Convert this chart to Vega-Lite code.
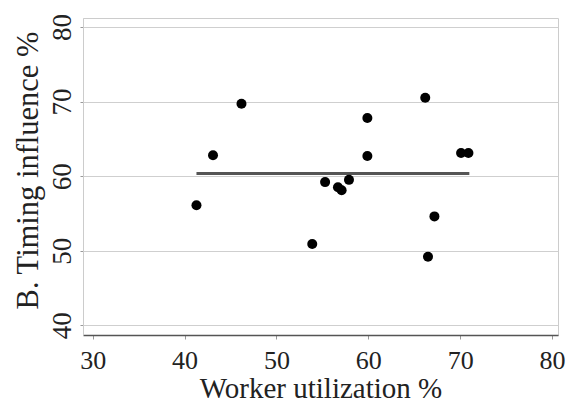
{
  "$schema": "https://vega.github.io/schema/vega-lite/v6.json",
  "width": 475,
  "height": 317,
  "autosize": {"type": "none"},
  "padding": {"left": 83, "top": 18, "right": 13, "bottom": 65},
  "background": "white",
  "config": {
    "font": "Liberation Serif",
    "view": {"stroke": "#cccccc", "strokeWidth": 1}
  },
  "datasets": {
    "points": [
      {"util": 41.3, "timing": 56.1},
      {"util": 43.1, "timing": 62.8},
      {"util": 46.2, "timing": 69.7},
      {"util": 53.9, "timing": 50.9},
      {"util": 55.3, "timing": 59.2},
      {"util": 56.7, "timing": 58.5},
      {"util": 57.1, "timing": 58.1},
      {"util": 57.9, "timing": 59.5},
      {"util": 59.9, "timing": 67.8},
      {"util": 59.9, "timing": 62.7},
      {"util": 66.2, "timing": 70.5},
      {"util": 66.5, "timing": 49.2},
      {"util": 67.2, "timing": 54.6},
      {"util": 70.1, "timing": 63.1},
      {"util": 70.9, "timing": 63.1}
    ],
    "meanline": [
      {"util": 41.3, "timing": 60.35},
      {"util": 71.0, "timing": 60.35}
    ]
  },
  "layer": [
    {
      "data": {"name": "meanline"},
      "mark": {"type": "line", "color": "#555555", "strokeWidth": 3},
      "encoding": {
        "x": {
          "field": "util",
          "type": "quantitative",
          "scale": {"domain": [28.95, 80.65], "nice": false, "zero": false},
          "axis": {
            "title": "Worker utilization %",
            "values": [30, 40, 50, 60, 70, 80],
            "grid": false,
            "domainColor": "#555555",
            "domainWidth": 1.5,
            "tickColor": "#999999",
            "tickSize": 4,
            "labelFont": "Liberation Serif",
            "labelFontSize": 26,
            "labelColor": "#222222",
            "labelBaseline": "alphabetic",
            "labelPadding": 29,
            "titleFont": "Liberation Serif",
            "titleFontSize": 29,
            "titleFontWeight": "normal",
            "titleColor": "#222222",
            "titleBaseline": "alphabetic",
            "titleY": 62
          }
        },
        "y": {
          "field": "timing",
          "type": "quantitative",
          "scale": {"domain": [38.7, 81.2], "nice": false, "zero": false},
          "axis": {
            "title": "B. Timing influence %",
            "values": [40, 50, 60, 70, 80],
            "grid": true,
            "gridColor": "#cfcfcf",
            "domainColor": "#cccccc",
            "tickColor": "#999999",
            "tickSize": 3,
            "labelAngle": -90,
            "labelAlign": "center",
            "labelBaseline": "alphabetic",
            "labelPadding": 10,
            "labelFont": "Liberation Serif",
            "labelFontSize": 27,
            "labelColor": "#222222",
            "titleFont": "Liberation Serif",
            "titleFontSize": 30.5,
            "titleFontWeight": "normal",
            "titleColor": "#222222",
            "titleBaseline": "alphabetic",
            "titleAngle": -90,
            "titleX": -46,
            "titleY": 152
          }
        }
      }
    },
    {
      "data": {"name": "points"},
      "mark": {"type": "circle", "size": 100, "color": "black", "opacity": 1},
      "encoding": {
        "x": {"field": "util", "type": "quantitative"},
        "y": {"field": "timing", "type": "quantitative"}
      }
    }
  ]
}
